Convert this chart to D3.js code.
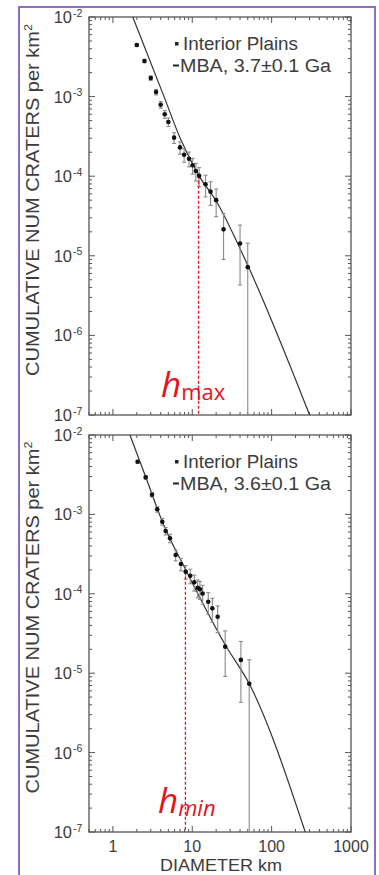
<!DOCTYPE html>
<html><head><meta charset="utf-8">
<script src="https://cdn.jsdelivr.net/npm/d3@7"></script>
<style>html,body{margin:0;padding:0;background:#fff;} svg{display:block;}</style>
</head><body><svg id="c" width="379" height="875"></svg>
<script>
// ---------- data ----------
const xTickValues = [1, 10, 100, 1000];
const xTickLabels = ["1", "10", "100", "1000"];
const yTickValues = [1e-2, 1e-3, 1e-4, 1e-5, 1e-6, 1e-7];
const yTickExponents = ["-2", "-3", "-4", "-5", "-6", "-7"];

const topDiam = [2.0, 2.5, 3.0, 3.5, 4.0, 4.5, 5.0, 5.9, 7.0, 7.9, 9.1, 10.1, 11.1, 12.2, 14.7, 17.0, 20.0, 24.8, 40, 50];
const topDens = [4.45e-3, 2.8e-3, 1.71e-3, 1.14e-3, 7.9e-4, 6.0e-4, 4.8e-4, 3.05e-4, 2.3e-4, 1.86e-4, 1.66e-4, 1.37e-4, 1.16e-4, 1.01e-4, 7.9e-5, 6.4e-5, 5.0e-5, 2.15e-5, 1.43e-5, 7.2e-6];
const topErr = [1.79e-4, 1.42e-4, 1.11e-4, 9.0e-5, 7.5e-5, 6.6e-5, 5.9e-5, 4.7e-5, 4.1e-5, 3.6e-5, 3.5e-5, 3.1e-5, 2.9e-5, 2.7e-5, 2.4e-5, 2.1e-5, 1.9e-5, 1.25e-5, 1.0e-5, 7.2e-6];
const topModelDiam = [1.78, 4.41, 7.0, 12.2, 20.0, 49.8, 301];
const topModelDens = [1e-2, 1e-3, 3.05e-4, 1.01e-4, 4.88e-5, 7.66e-6, 1e-7];

const botDiam = [2.05, 2.59, 3.11, 3.62, 4.19, 4.62, 5.24, 6.18, 7.2, 8.26, 9.44, 10.6, 11.7, 12.5, 13.5, 15.9, 17.9, 20.9, 26.0, 41.0, 52.2];
const botDens = [4.61e-3, 2.93e-3, 1.77e-3, 1.16e-3, 8.09e-4, 6.18e-4, 5.0e-4, 3.08e-4, 2.37e-4, 1.90e-4, 1.69e-4, 1.40e-4, 1.19e-4, 1.14e-4, 1.01e-4, 7.94e-5, 6.56e-5, 5.15e-5, 2.16e-5, 1.47e-5, 7.38e-6];
const botErr = [1.84e-4, 1.47e-4, 1.14e-4, 9.3e-5, 7.7e-5, 6.7e-5, 6.1e-5, 4.8e-5, 4.2e-5, 3.7e-5, 3.5e-5, 3.2e-5, 3.0e-5, 2.9e-5, 2.7e-5, 2.4e-5, 2.2e-5, 1.9e-5, 1.25e-5, 1.04e-5, 7.38e-6];
const botModelDiam = [1.64, 2.6, 4.2, 8.5, 26.6, 52.2, 265];
const botModelDens = [1e-2, 2.93e-3, 8.09e-4, 1.9e-4, 2.2e-5, 7.38e-6, 1e-7];

const legendData = "Interior Plains";
const legendModel = ["MBA, 3.7\u00b10.1 Ga", "MBA, 3.6\u00b10.1 Ga"];
const hDiam = [12.0, 8.2];
const hDens = [1.01e-4, 1.9e-4];
const hSub = ["max", "min"];

// ---------- layout ----------
const svg = d3.select("#c");
const W = 379, H = 875;
svg.append("rect").attr("x", 0).attr("y", 0).attr("width", W).attr("height", H).attr("fill", "#fff");
svg.append("rect").attr("x", 19).attr("y", 7).attr("width", 356).attr("height", 880)
  .attr("fill", "none").attr("stroke", "#8b70c2").attr("stroke-width", 2);

const plotLeft = 89, plotRight = 351;
const panels = [
  { top: 17, bottom: 415, diam: topDiam, dens: topDens, err: topErr, mD: topModelDiam, mN: topModelDens,
    model: legendModel[0], hD: hDiam[0], hN: hDens[0], sub: hSub[0], xLabels: false },
  { top: 435, bottom: 832, diam: botDiam, dens: botDens, err: botErr, mD: botModelDiam, mN: botModelDens,
    model: legendModel[1], hD: hDiam[1], hN: hDens[1], sub: hSub[1], xLabels: true }
];

const axisColor = "#555";
const textColor = "#3c3c3c";
const font = "'Liberation Sans', Arial, Helvetica, sans-serif";

panels.forEach((p, pi) => {
  const x = d3.scaleLog().domain([0.5, 1000]).range([plotLeft, plotRight]);
  const y = d3.scaleLog().domain([1e-7, 1e-2]).range([p.bottom, p.top]);
  const g = svg.append("g");

  // minor & major ticks (inward, all four sides)
  const xMinor = [];
  [0.1, 1, 10, 100].forEach(dec => { for (let k = 1; k <= 9; k++) { const v = dec * k; if (v >= 0.5 && v <= 1000) xMinor.push(v); } });
  xMinor.push(1000);
  const yMinor = [];
  [1e-7, 1e-6, 1e-5, 1e-4, 1e-3].forEach(dec => { for (let k = 1; k <= 9; k++) yMinor.push(dec * k); });
  yMinor.push(1e-2);

  const tk = g.append("g").attr("stroke", axisColor).attr("stroke-width", 1);
  xMinor.forEach(v => {
    const major = xTickValues.some(t => Math.abs(t - v) / t < 1e-6);
    const len = major ? 6 : 3;
    const xx = x(v);
    tk.append("line").attr("x1", xx).attr("x2", xx).attr("y1", p.bottom).attr("y2", p.bottom - len);
    tk.append("line").attr("x1", xx).attr("x2", xx).attr("y1", p.top).attr("y2", p.top + len);
  });
  yMinor.forEach(v => {
    const major = yTickValues.some(t => Math.abs(t - v) / t < 1e-6);
    const len = major ? 6 : 3;
    const yy = y(v);
    tk.append("line").attr("y1", yy).attr("y2", yy).attr("x1", plotLeft).attr("x2", plotLeft + len);
    tk.append("line").attr("y1", yy).attr("y2", yy).attr("x1", plotRight).attr("x2", plotRight - len);
  });

  // frame
  g.append("rect").attr("x", plotLeft).attr("y", p.top).attr("width", plotRight - plotLeft).attr("height", p.bottom - p.top)
    .attr("fill", "none").attr("stroke", axisColor).attr("stroke-width", 1.3);

  // y tick labels
  yTickValues.forEach((v, i) => {
    g.append("text").attr("x", 72).attr("y", y(v) + 6).attr("text-anchor", "end")
      .attr("font-family", font).attr("font-size", 16.5).attr("fill", textColor).text("10");
    g.append("text").attr("x", 73).attr("y", y(v) - 0.5).attr("font-family", font).attr("font-size", 10.5)
      .attr("fill", textColor).text(yTickExponents[i]);
  });

  // x tick labels
  if (p.xLabels) {
    xTickValues.forEach((v, i) => {
      g.append("text").attr("x", x(v)).attr("y", p.bottom + 19.5).attr("text-anchor", "middle")
        .attr("font-family", font).attr("font-size", 16).attr("fill", textColor).text(xTickLabels[i]);
    });
    g.append("text").attr("x", (plotLeft + plotRight) / 2 + 1).attr("y", p.bottom + 39).attr("text-anchor", "middle")
      .attr("font-family", font).attr("font-size", 17).attr("fill", textColor)
      .attr("textLength", 122).attr("lengthAdjust", "spacingAndGlyphs").text("DIAMETER km");
  }

  // y axis label
  const yl = g.append("text")
    .attr("transform", `translate(39,${(p.top + p.bottom) / 2 - 16}) rotate(-90)`)
    .attr("text-anchor", "middle").attr("font-family", font).attr("font-size", 17.5).attr("fill", textColor)
    .attr("textLength", 352).attr("lengthAdjust", "spacingAndGlyphs");
  yl.append("tspan").text("CUMULATIVE NUM CRATERS per km");
  yl.append("tspan").attr("font-size", 11).attr("dy", -7).text("2");

  // model line
  const mpts = p.mD.map((d, i) => [x(d), y(p.mN[i])]);
  g.append("path").attr("d", d3.line().curve(d3.curveMonotoneX)(mpts))
    .attr("fill", "none").attr("stroke", "#333").attr("stroke-width", 1.2);

  // error bars
  const eb = g.append("g").attr("stroke", "#8a8a8a").attr("stroke-width", 1.1);
  p.diam.forEach((d, i) => {
    const xx = x(d);
    const hi = p.dens[i] + p.err[i];
    const loV = p.dens[i] - p.err[i];
    const y1 = y(hi);
    const y2 = loV > 1e-7 ? y(loV) : p.bottom;
    eb.append("line").attr("x1", xx).attr("x2", xx).attr("y1", y1).attr("y2", y2);
    eb.append("line").attr("x1", xx - 2).attr("x2", xx + 2).attr("y1", y1).attr("y2", y1);
    if (loV > 1e-7) eb.append("line").attr("x1", xx - 2).attr("x2", xx + 2).attr("y1", y2).attr("y2", y2);
  });

  // red dashed line
  g.append("line").attr("x1", x(p.hD)).attr("x2", x(p.hD)).attr("y1", y(p.hN)).attr("y2", p.bottom)
    .attr("stroke", "#e8111a").attr("stroke-width", 1.3).attr("stroke-dasharray", "3,2");

  // points
  g.append("g").selectAll("circle").data(p.diam).join("circle")
    .attr("cx", d => x(d)).attr("cy", (d, i) => y(p.dens[i])).attr("r", 2.3).attr("fill", "#111");

  // legend
  const lx = 183, ly1 = p.top + 33, ly2 = p.top + 55;
  g.append("rect").attr("x", 175).attr("y", ly1 - 8).attr("width", 3.5).attr("height", 3.5).attr("fill", "#222");
  g.append("text").attr("x", lx).attr("y", ly1).attr("font-family", font).attr("font-size", 18).attr("fill", textColor)
    .attr("textLength", 115).attr("lengthAdjust", "spacingAndGlyphs").text(legendData);
  g.append("line").attr("x1", 173).attr("x2", 179).attr("y1", ly2 - 6.5).attr("y2", ly2 - 6.5).attr("stroke", "#222").attr("stroke-width", 2);
  g.append("text").attr("x", 180).attr("y", ly2).attr("font-family", font).attr("font-size", 18).attr("fill", textColor)
    .attr("textLength", 151).attr("lengthAdjust", "spacingAndGlyphs").text(p.model);

  // h label
  const hx = pi === 0 ? 161 : 158;
  const hy = pi === 0 ? 397 : 813;
  const ht = g.append("text").attr("x", hx).attr("y", hy).attr("font-family", "'Open Sans', 'Noto Sans', sans-serif").attr("fill", "#e8111a");
  ht.append("tspan").attr("font-size", 35).attr("font-style", "italic").text("h");
  ht.append("tspan").attr("font-size", 22).attr("dy", 3).attr("font-style", pi === 0 ? "normal" : "italic").text(p.sub);
});
</script>
</body></html>
